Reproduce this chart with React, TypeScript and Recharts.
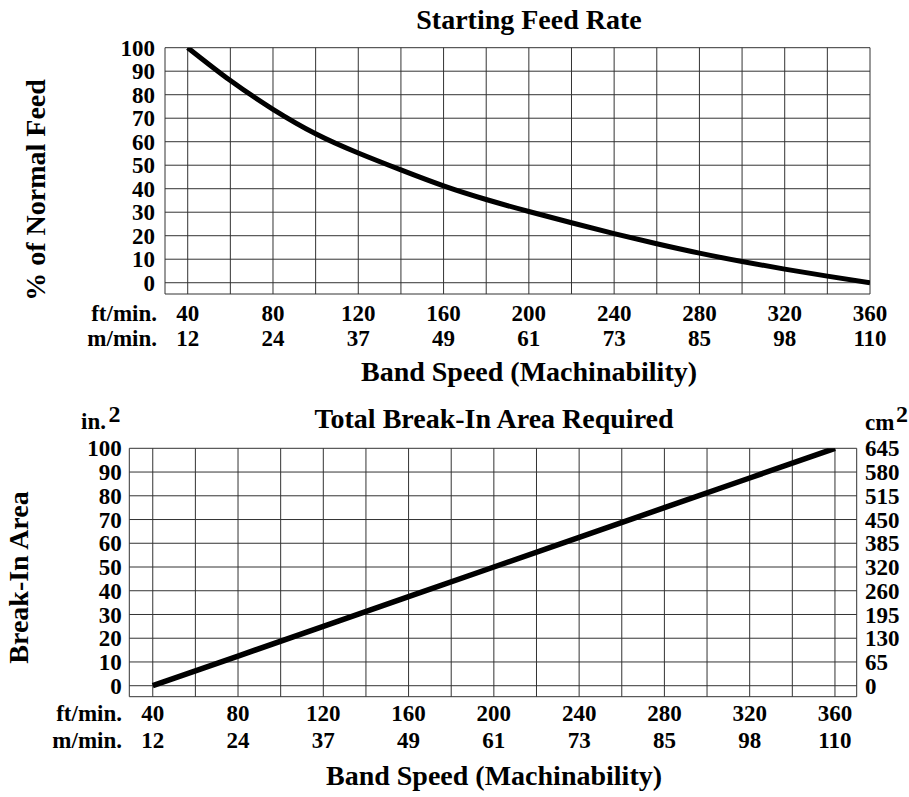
import React from 'react';
import { LineChart, Line, XAxis, YAxis, CartesianGrid } from 'recharts';

// ---- data ----
const feedSpeedFt = [40, 60, 80, 100, 120, 140, 160, 180, 200, 220, 240, 260, 280, 300, 320, 340, 360];
const feedPercent = [100, 86, 73.8, 63.4, 55.2, 48, 41.2, 35.4, 30.3, 25.5, 20.9, 16.6, 12.6, 9, 5.8, 2.8, 0];

const areaSpeedFt = [40, 80, 120, 160, 200, 240, 280, 320, 360];
const areaIn2 = [0, 12.5, 25, 37.5, 50, 62.5, 75, 87.5, 100];

const gridSpeedTicks = [40, 60, 80, 100, 120, 140, 160, 180, 200, 220, 240, 260, 280, 300, 320, 340, 360];
const ftLabels = [40, 80, 120, 160, 200, 240, 280, 320, 360];
const mLabels = ['12', '24', '37', '49', '61', '73', '85', '98', '110'];
const yTicks = [0, 10, 20, 30, 40, 50, 60, 70, 80, 90, 100];
const cm2Labels = ['0', '65', '130', '195', '260', '320', '385', '450', '515', '580', '645'];

const feedData = feedSpeedFt.map((ft, i) => ({ ft, pct: feedPercent[i] }));
const areaData = areaSpeedFt.map((ft, i) => ({ ft, area: areaIn2[i] }));

const FONT = '"Liberation Serif", "Times New Roman", serif';
const tickStyle = { fontSize: 23, fontWeight: 'bold', fill: '#000', fontFamily: FONT };

const makeSpeedTick = (dyFt: number, dyM: number) => (props: any) => {
  const { x, y, payload } = props;
  const idx = ftLabels.indexOf(payload.value);
  if (idx < 0) return <g />;
  return (
    <g>
      <text x={x} y={y} dy={dyFt} textAnchor="middle" fontSize={23} fontWeight="bold" fontFamily={FONT} fill="#000">
        {ftLabels[idx]}
      </text>
      <text x={x} y={y} dy={dyM} textAnchor="middle" fontSize={23} fontWeight="bold" fontFamily={FONT} fill="#000">
        {mLabels[idx]}
      </text>
    </g>
  );
};

const TopTick = makeSpeedTick(26.7, 52);
const BottomTick = makeSpeedTick(24.5, 51.5);

const txt = { fontWeight: 'bold' as const, fontFamily: FONT, fill: '#000' };

export default function App() {
  return (
    <div style={{ position: 'absolute', left: 0, top: 0, width: 909, height: 797, background: '#fff' }}>
      <div style={{ position: 'absolute', left: 0, top: 0 }}>
        <LineChart width={909} height={400} data={feedData} margin={{ top: 47.7, right: 39, bottom: 0, left: 0 }}>
          <CartesianGrid stroke="#333" strokeWidth={1} />
          <XAxis
            dataKey="ft"
            type="number"
            domain={[29.35, 360]}
            allowDataOverflow
            ticks={gridSpeedTicks}
            interval={0}
            height={106}
            tickSize={0}
            tickMargin={0}
            axisLine={false}
            tickLine={false}
            tick={TopTick}
          />
          <YAxis
            type="number"
            domain={[-4.8, 100]}
            allowDataOverflow
            ticks={yTicks}
            interval={0}
            width={165}
            tickSize={0}
            tickMargin={10}
            axisLine={false}
            tickLine={false}
            tick={tickStyle}
          />
          <Line dataKey="pct" type="natural" stroke="#000" strokeWidth={5} dot={false} isAnimationActive={false} />
          <g>
            <text x={529} y={29} textAnchor="middle" fontSize={28} {...txt}>Starting Feed Rate</text>
            <text x={45} y={190} textAnchor="middle" fontSize={28} transform="rotate(-90, 45, 190)" {...txt}>% of Normal Feed</text>
            <text x={157} y={320.7} textAnchor="end" fontSize={23} {...txt}>ft/min.</text>
            <text x={157} y={346} textAnchor="end" fontSize={23} {...txt}>m/min.</text>
            <text x={529} y={381} textAnchor="middle" fontSize={28} {...txt}>Band Speed (Machinability)</text>
          </g>
        </LineChart>
      </div>
      <div style={{ position: 'absolute', left: 0, top: 400 }}>
        <LineChart width={909} height={397} data={areaData} margin={{ top: 48.3, right: 0, bottom: 0, left: 0 }}>
          <CartesianGrid stroke="#333" strokeWidth={1} />
          <XAxis
            dataKey="ft"
            type="number"
            domain={[29.0, 370.2]}
            allowDataOverflow
            ticks={gridSpeedTicks}
            interval={0}
            height={100.3}
            tickSize={0}
            tickMargin={0}
            axisLine={false}
            tickLine={false}
            tick={BottomTick}
          />
          <YAxis
            type="number"
            domain={[-4.63, 100]}
            allowDataOverflow
            ticks={yTicks}
            interval={0}
            width={129.3}
            tickSize={0}
            tickMargin={7.6}
            axisLine={false}
            tickLine={false}
            tick={tickStyle}
          />
          <YAxis
            yAxisId="right"
            orientation="right"
            type="number"
            domain={[-4.63, 100]}
            allowDataOverflow
            ticks={yTicks}
            interval={0}
            width={52.3}
            tickSize={0}
            tickMargin={8.3}
            axisLine={false}
            tickLine={false}
            tick={tickStyle}
            tickFormatter={(v: number) => cm2Labels[yTicks.indexOf(v)]}
          />
          <Line dataKey="area" type="linear" stroke="#000" strokeWidth={5.5} dot={false} isAnimationActive={false} />
          <g>
            <text x={494} y={28} textAnchor="middle" fontSize={28} {...txt}>Total Break-In Area Required</text>
            <text x={106} y={29} textAnchor="end" fontSize={23} {...txt}>in.</text>
            <text x={108.5} y={21.7} textAnchor="start" fontSize={24} {...txt}>2</text>
            <text x={865} y={30} textAnchor="start" fontSize={23} {...txt}>cm</text>
            <text x={896} y={21.7} textAnchor="start" fontSize={24} {...txt}>2</text>
            <text x={28.3} y={177.5} textAnchor="middle" fontSize={28} transform="rotate(-90, 28.3, 177.5)" {...txt}>Break-In Area</text>
            <text x={122} y={321} textAnchor="end" fontSize={23} {...txt}>ft/min.</text>
            <text x={122} y={348} textAnchor="end" fontSize={23} {...txt}>m/min.</text>
            <text x={494} y={385} textAnchor="middle" fontSize={28} {...txt}>Band Speed (Machinability)</text>
          </g>
        </LineChart>
      </div>
    </div>
  );
}
